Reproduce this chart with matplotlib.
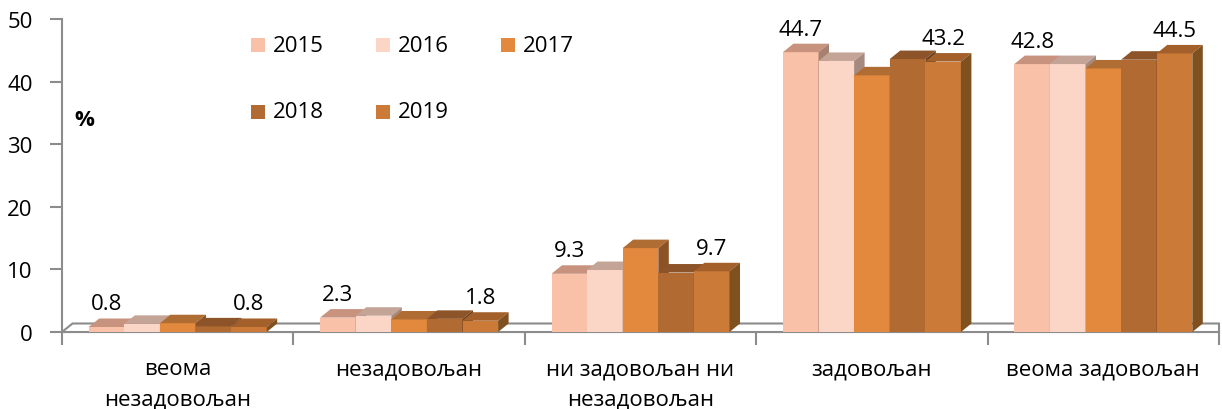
import matplotlib
matplotlib.use("Agg")
import matplotlib.pyplot as plt
from matplotlib.patches import Polygon, Rectangle

plt.rcParams["font.family"] = ["Open Sans", "DejaVu Sans"]
plt.rcParams["font.size"] = 16

categories = ["веома\nнезадовољан", "незадовољан", "ни задовољан ни\nнезадовољан",
              "задовољан", "веома задовољан"]
years = ["2015", "2016", "2017", "2018", "2019"]
v2015 = [0.8, 2.3, 9.3, 44.7, 42.8]
v2016 = [1.3, 2.6, 9.9, 43.3, 42.8]
v2017 = [1.4, 2.0, 13.4, 41.0, 42.1]
v2018 = [0.9, 2.1, 9.5, 43.6, 43.5]
v2019 = [0.8, 1.8, 9.7, 43.2, 44.5]
series = [v2015, v2016, v2017, v2018, v2019]
labelled = [0, 4]  # only first and last year carry data labels

front = ["#F9C1A7", "#FBD6C6", "#E2893E", "#B16A31", "#CB7A38"]
top = ["#C7937E", "#C4A497", "#B06D33", "#8C5428", "#A3602A"]
side = ["#A8806F", "#A68A7E", "#8C5224", "#6E401D", "#80501F"]
grey = "#8C8C8C"

W, H = 1222, 410
fig = plt.figure(figsize=(W / 100, H / 100), dpi=100)
x0, x1, y0, y1 = 62, 1219, 333, 20
ax = fig.add_axes([x0 / W, 1 - y0 / H, (x1 - x0) / W, (y0 - y1) / H])
ax.set_xlim(0, 5)
ax.set_ylim(0, 50)

px_x = (x1 - x0) / 5      # pixels per category
px_y = (y0 - y1) / 50     # pixels per percent
dx = 10.5 / px_x          # depth offset in data units
dy = 8.5 / px_y
bw = 35.6 / px_x          # bar width

# floor plate
ax.add_patch(Polygon([(0, 0), (dx, dy), (5, dy), (5, 0)], closed=True,
                     facecolor="white", edgecolor=grey, lw=1.5, clip_on=False, zorder=1))

z = 2
for c in range(len(categories)):
    left = c + 0.5 - 2.5 * bw
    for i, vals in enumerate(series):
        v = vals[c]
        xl = left + i * bw
        xr = xl + bw
        ax.add_patch(Rectangle((xl, 0), bw, v, facecolor=front[i], edgecolor="none",
                               clip_on=False, zorder=z))
        ax.add_patch(Polygon([(xl, v), (xl + dx, v + dy), (xr + dx, v + dy), (xr, v)],
                             facecolor=top[i], edgecolor="none", clip_on=False, zorder=z))
        ax.add_patch(Polygon([(xr, 0), (xr + dx, dy), (xr + dx, v + dy), (xr, v)],
                             facecolor=side[i], edgecolor="none", clip_on=False, zorder=z))
        z += 1
        if i in labelled:
            ax.text(xl + bw / 2, v + dy + 9 / px_y, f"{v:.1f}", ha="center",
                    va="baseline", zorder=100)
    ax.text(c + 0.5, -26 / px_y, categories[c], ha="center", va="top",
            linespacing=1.6, clip_on=False)

for s in ["top", "right", "bottom"]:
    ax.spines[s].set_visible(False)
ax.spines["left"].set_color(grey)
ax.spines["left"].set_linewidth(1.5)
ax.set_yticks(range(0, 51, 10))
ax.tick_params(axis="y", direction="out", length=9, width=1.5, color=grey, pad=12)
ax.set_xticks(range(0, 6))
ax.set_xticklabels([])
ax.tick_params(axis="x", direction="out", length=9, width=1.5, color=grey)
ax.plot([0, 5], [0, 0], color=grey, lw=1.5, clip_on=False, zorder=0)

ax.text(84 / W, 1 - 121 / H, "%", transform=fig.transFigure, ha="center", va="center",
        fontweight="bold")

# legend drawn by hand: 3 + 2 entries
leg_pos = [(251, 46), (376, 46), (501, 46), (251, 113), (376, 113)]
for (lx, ly), yr, col in zip(leg_pos, years, front):
    fig.patches.append(Rectangle((lx / W, 1 - (ly + 7) / H), 14 / W, 14 / H,
                                 facecolor=col, edgecolor="none", transform=fig.transFigure))
    fig.text((lx + 22) / W, 1 - ly / H, yr, ha="left", va="center")

fig.savefig("out.png", dpi=100)
